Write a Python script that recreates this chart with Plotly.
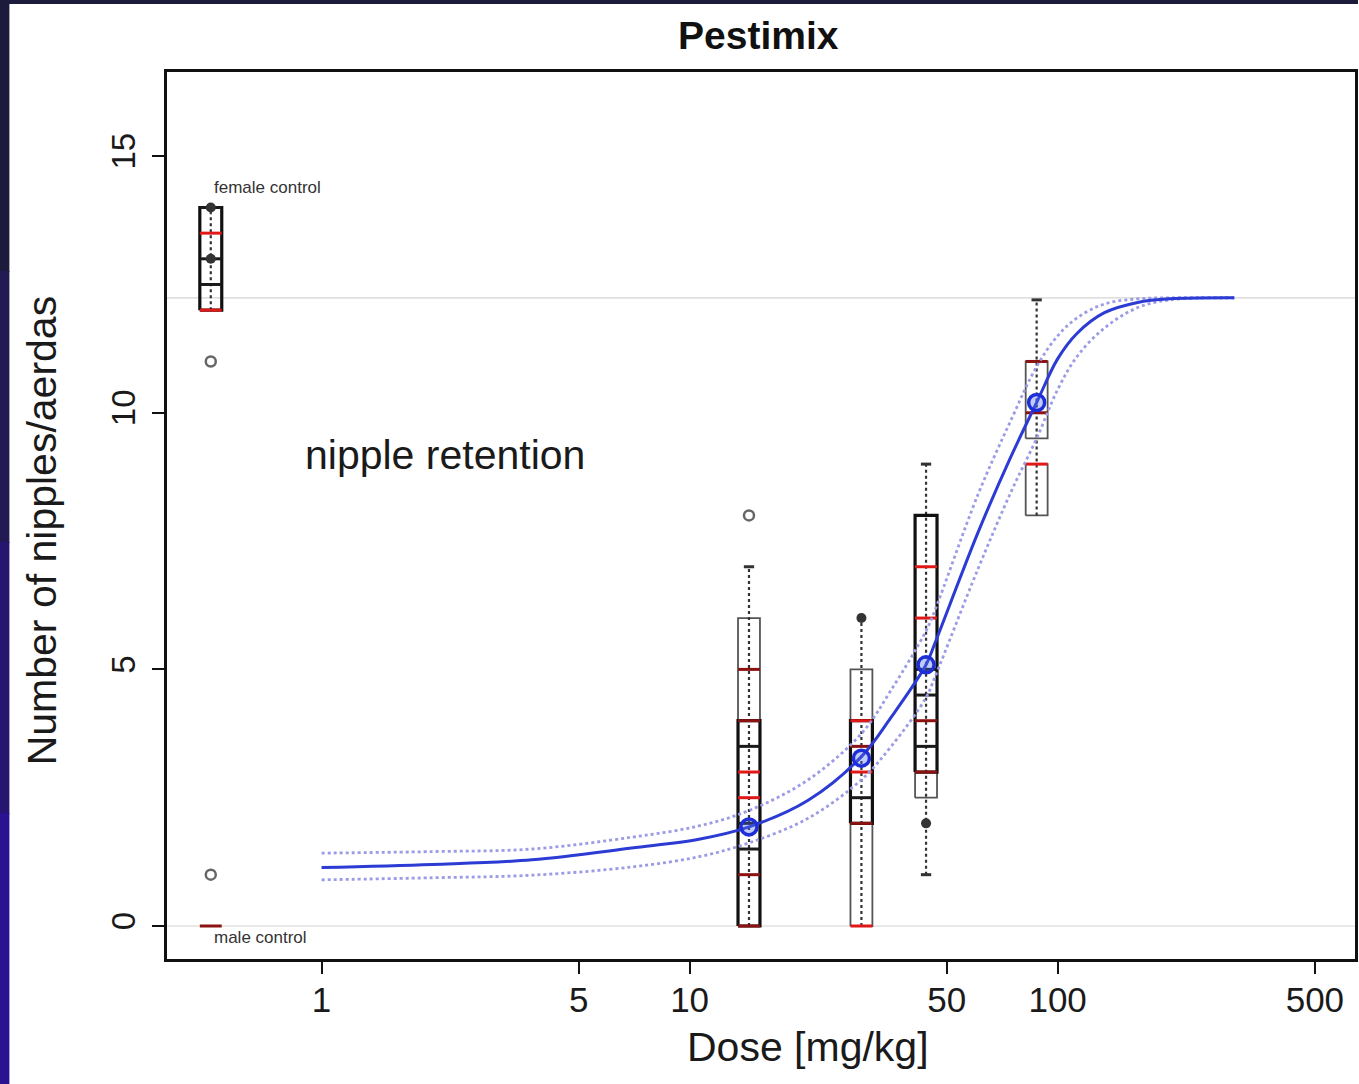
import numpy as np
import plotly.graph_objects as go

# ---------------- data ----------------
# group positions (controls are drawn at 0.5 on the dose axis)
group_dose = [0.5, 0.5, 14.5, 29.3, 43.9, 87.7]
group_name = ["female control", "male control", "14.5", "29.3", "43.9", "87.7"]

# fitted dose-response curve
curve_dose = [1.0, 2.0, 3.73, 6.96, 10.6, 14.5, 21.0, 29.3, 35.3, 43.9, 46.4,
              60.7, 74.6, 87.7, 100, 113, 134, 165, 202, 302]
curve_val = [1.14, 1.20, 1.29, 1.52, 1.69, 1.93, 2.45, 3.30, 4.07, 5.09, 5.51,
             7.66, 9.14, 10.2, 11.05, 11.55, 11.95, 12.15, 12.22, 12.24]
ci_upper = [1.42, 1.45, 1.50, 1.73, 1.95, 2.25, 2.85, 3.75, 4.60, 5.75, 6.15,
            8.40, 9.85, 10.9, 11.5, 11.85, 12.12, 12.22, 12.24, 12.24]
ci_lower = [0.90, 0.94, 0.99, 1.15, 1.35, 1.62, 2.10, 2.85, 3.50, 4.45, 4.85,
            6.95, 8.45, 9.50, 10.45, 11.1, 11.65, 12.05, 12.20, 12.24]

# fitted group means (blue circles)
fit_group = [2, 3, 4, 5]
fit_value = [1.93, 3.27, 5.09, 10.2]

# overlapping box outlines: group index, low, high, thick outline?
box_group = [0, 2, 2, 3, 3, 4, 4, 5, 5]
box_low = [12, 0, 0, 0, 2, 2.5, 3, 9.5, 8]
box_high = [14, 6, 4, 5, 4, 8, 8, 11, 9]
box_thick = [True, False, True, False, True, False, True, False, False]

# horizontal segments inside boxes (medians / hinges)
seg_group = [0, 0, 0, 0, 0,
             1,
             2, 2, 2, 2, 2, 2, 2, 2, 2,
             3, 3, 3, 3, 3, 3,
             4, 4, 4, 4, 4, 4, 4,
             5, 5, 5]
seg_value = [14, 13.5, 13, 12.5, 12,
             0,
             5, 4, 3.5, 3, 2.5, 2, 1.5, 1, 0,
             4, 3.5, 3, 2.5, 2, 0,
             7, 6, 5, 4.5, 4, 3.5, 3,
             11, 10, 9]
seg_kind = ["k", "r", "k", "k", "r",
            "d",
            "d", "d", "k", "r", "r", "k", "k", "d", "d",
            "r", "d", "r", "k", "d", "r",
            "r", "r", "k", "k", "d", "k", "d",
            "d", "d", "r"]

# dotted whiskers: group, low, high
wh_group = [0, 2, 3, 4, 5]
wh_low = [12, 0, 0, 1, 8]
wh_high = [14, 7, 6, 9, 12.2]
# whisker caps
cap_group = [2, 4, 4, 5]
cap_value = [7, 9, 1, 12.2]
# outliers
out_open_group = [0, 1, 2]
out_open_value = [11, 1, 8]
out_fill_group = [0, 0, 3, 4]
out_fill_value = [14, 13, 6, 2]

upper_asymptote = 12.24

x_ticks = [1, 5, 10, 50, 100, 500]
y_ticks = [0, 5, 10, 15]

# ---------------- figure ----------------
W, H = 1359, 1084
ML, MR, MT, MB = 167, 1, 72, 125
PW, PH = W - ML - MR, H - MT - MB
FONT = "Liberation Sans, Arial, sans-serif"

HW = 0.0298        # half box width in decades
CAPW = 0.014       # half cap width in decades


def rect_xy(groups, lows, highs):
    xs, ys = [], []
    for g, lo, hi in zip(groups, lows, highs):
        d = group_dose[g]
        x0, x1 = d * 10 ** (-HW), d * 10 ** HW
        xs += [x0, x1, x1, x0, x0, None]
        ys += [lo, lo, hi, hi, lo, None]
    return xs, ys


def hseg_xy(groups, vals, hw):
    xs, ys = [], []
    for g, v in zip(groups, vals):
        d = group_dose[g]
        xs += [d * 10 ** (-hw), d * 10 ** hw, None]
        ys += [v, v, None]
    return xs, ys


fig = go.Figure()

# thin boxes
g = [b for b, t in zip(box_group, box_thick) if not t]
lo = [b for b, t in zip(box_low, box_thick) if not t]
hi = [b for b, t in zip(box_high, box_thick) if not t]
x, y = rect_xy(g, lo, hi)
fig.add_trace(go.Scatter(x=x, y=y, mode="lines",
                         line=dict(color="#555555", width=1.8), hoverinfo="skip"))

# whiskers
xs, ys = [], []
for gi, l, h in zip(wh_group, wh_low, wh_high):
    xs += [group_dose[gi], group_dose[gi], None]
    ys += [l, h, None]
fig.add_trace(go.Scatter(x=xs, y=ys, mode="lines",
                         line=dict(color="#333333", width=2.2, dash="dot"), hoverinfo="skip"))

# thick boxes
g = [b for b, t in zip(box_group, box_thick) if t]
lo = [b for b, t in zip(box_low, box_thick) if t]
hi = [b for b, t in zip(box_high, box_thick) if t]
x, y = rect_xy(g, lo, hi)
fig.add_trace(go.Scatter(x=x, y=y, mode="lines",
                         line=dict(color="#111111", width=3.2), hoverinfo="skip"))

# segments
kind_color = {"k": "#1a1a1a", "r": "#e01818", "d": "#8c1212"}
for k, c in kind_color.items():
    gg = [a for a, kk in zip(seg_group, seg_kind) if kk == k]
    vv = [a for a, kk in zip(seg_value, seg_kind) if kk == k]
    x, y = hseg_xy(gg, vv, HW)
    fig.add_trace(go.Scatter(x=x, y=y, mode="lines",
                             line=dict(color=c, width=3), hoverinfo="skip"))

# caps
x, y = hseg_xy(cap_group, cap_value, CAPW)
fig.add_trace(go.Scatter(x=x, y=y, mode="lines",
                         line=dict(color="#333333", width=3), hoverinfo="skip"))

# outliers
fig.add_trace(go.Scatter(x=[group_dose[i] for i in out_open_group], y=out_open_value,
                         mode="markers",
                         marker=dict(symbol="circle-open", size=10, color="#666666",
                                     line=dict(width=2.5)), hoverinfo="skip"))
fig.add_trace(go.Scatter(x=[group_dose[i] for i in out_fill_group], y=out_fill_value,
                         mode="markers",
                         marker=dict(symbol="circle", size=10, color="#333333"),
                         hoverinfo="skip"))

# confidence band (dotted)
for band in (ci_upper, ci_lower):
    fig.add_trace(go.Scatter(x=curve_dose, y=band, mode="lines",
                             line=dict(color="#9c9ce6", width=2.8, dash="dot", shape="spline"),
                             hoverinfo="skip"))

# fitted curve
fig.add_trace(go.Scatter(x=curve_dose, y=curve_val, mode="lines",
                         line=dict(color="#2b3bd4", width=3, shape="spline"),
                         hoverinfo="skip"))

# fitted group means
fig.add_trace(go.Scatter(x=[group_dose[i] for i in fit_group], y=fit_value,
                         mode="markers",
                         marker=dict(symbol="circle", size=16, color="rgba(80,110,240,0.35)",
                                     line=dict(color="#1f2fd8", width=3.5)),
                         hoverinfo="skip"))

# reference lines
for v in (0, upper_asymptote):
    fig.add_shape(type="line", xref="paper", yref="y", x0=0, x1=1, y0=v, y1=v,
                  line=dict(color="#d4d4d4", width=1.2), layer="below")


# dark frame strips of the screenshot
def px(xp):
    return (xp - ML) / PW


def py(yp):
    return 1 - (yp - MT) / PH


strip_cols = ["#1d1b3c", "#221a52", "#261670", "#2a1290"]
for i, c in enumerate(strip_cols):
    fig.add_shape(type="rect", xref="paper", yref="paper",
                  x0=px(-2), x1=px(9), y0=py(H * (i + 1) / 4 + 1), y1=py(H * i / 4),
                  line=dict(width=0), fillcolor=c, layer="above")
fig.add_shape(type="rect", xref="paper", yref="paper",
              x0=px(-2), x1=px(W + 2), y0=py(4), y1=py(-2),
              line=dict(width=0), fillcolor="#1d1b3c", layer="above")

# annotations
common = dict(showarrow=False, xanchor="center", yanchor="middle")
fig.add_annotation(text="<b>Pestimix</b>", xref="paper", yref="paper",
                   x=px(760), y=py(35), font=dict(family=FONT, size=39, color="#111"),
                   **common)
fig.add_annotation(text="Dose [mg/kg]", xref="paper", yref="paper",
                   x=px(810), y=py(1047), font=dict(family=FONT, size=41, color="#1a1a1a"),
                   **common)
fig.add_annotation(text="Number of nipples/aerdas", xref="paper", yref="paper",
                   x=px(42), y=py(531), textangle=-90,
                   font=dict(family=FONT, size=41, color="#1a1a1a"), **common)
fig.add_annotation(text="nipple retention", xref="x", yref="y",
                   x=np.log10(0.888), y=9.18, xanchor="left", yanchor="middle",
                   showarrow=False, font=dict(family=FONT, size=41, color="#1a1a1a"))
fig.add_annotation(text="female control", xref="x", yref="y",
                   x=np.log10(0.503), y=14.39, xanchor="left", yanchor="middle",
                   showarrow=False, font=dict(family=FONT, size=17, color="#333"))
fig.add_annotation(text="male control", xref="x", yref="y",
                   x=np.log10(0.503), y=-0.23, xanchor="left", yanchor="middle",
                   showarrow=False, font=dict(family=FONT, size=17, color="#333"))

fig.update_layout(
    width=W, height=H,
    margin=dict(l=ML, r=MR, t=MT, b=MB, pad=0),
    paper_bgcolor="white", plot_bgcolor="white",
    showlegend=False,
    xaxis=dict(type="log", range=[-0.42, 2.808], tickvals=x_ticks,
               ticktext=[str(v) for v in x_ticks],
               showgrid=False, zeroline=False,
               showline=True, linecolor="#111", linewidth=3, mirror=True,
               ticks="outside", ticklen=12, tickwidth=2, tickcolor="#111",
               tickfont=dict(family=FONT, size=35, color="#1a1a1a"),
               ticklabelstandoff=-4),
    yaxis=dict(range=[-0.643, 16.64], tickvals=y_ticks,
               showgrid=False, zeroline=False,
               showline=True, linecolor="#111", linewidth=3, mirror=True,
               ticks="outside", ticklen=12, tickwidth=2, tickcolor="#111",
               tickangle=-90,
               tickfont=dict(family=FONT, size=33, color="#1a1a1a"),
               ticklabelstandoff=4),
)

fig.write_html("out.html", config={"displayModeBar": False},
               post_script="document.body.style.margin='0';document.body.style.overflow='hidden';")
